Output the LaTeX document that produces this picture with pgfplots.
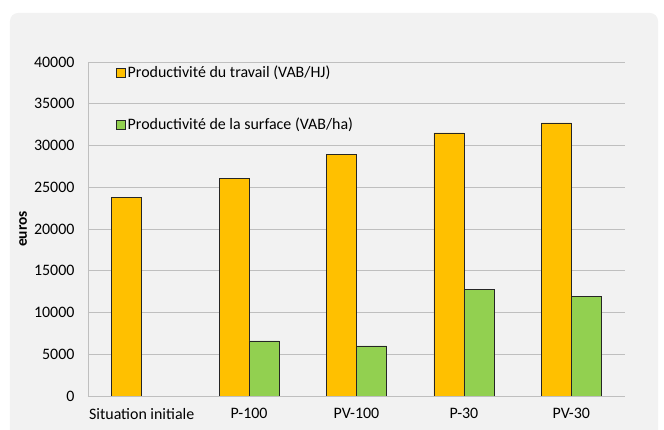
\documentclass[border=0pt]{standalone}
\usepackage{pgfplots}
\pgfplotsset{compat=1.18}
\usepackage{fontspec}
\setmainfont{Carlito}
\definecolor{orangebar}{HTML}{FFC000}
\definecolor{greenbar}{HTML}{92D050}
\definecolor{panel}{HTML}{F2F2F2}
\definecolor{gridc}{HTML}{BFBFBF}
\begin{document}
\begin{tikzpicture}
\path[use as bounding box] (-88bp,-34bp) rectangle (576bp,396bp);
\fill[panel, rounded corners=8bp] (-78bp,-60bp) rectangle (570bp,383bp);
\begin{axis}[
  at={(0,0)}, anchor=south west,
  scale only axis, width=537bp, height=334bp,
  ymin=0, ymax=40000, ytick={0,5000,...,40000},
  scaled y ticks=false,
  xmin=-0.5, xmax=4.5, xtick={0,1,2,3,4},
  xticklabels={Situation initiale,P-100,PV-100,P-30,PV-30},
  ymajorgrids, grid style={gridc, line width=0.9bp},
  axis x line*=bottom, axis y line*=left,
  axis line style={-, gridc, line width=0.9bp},
  major tick length=0pt,
  ybar, bar width=30bp,
  /pgf/number format/assume math mode=true,
  /pgf/number format/1000 sep={},
  tick label style={font=\fontsize{16}{19}\selectfont},
  yticklabel style={xshift=-10bp},
  xticklabel style={yshift=-9bp},
  ylabel={\textbf{euros}},
  ylabel style={at={(axis description cs:-0.121,0.5)}, anchor=center, font=\fontsize{15.5}{18}\selectfont},
  legend style={at={(axis description cs:0.052,0.994)}, anchor=north west, draw=none, fill=none,
    font=\fontsize{16}{19}\selectfont, row sep=35bp, inner sep=0pt},
  legend cell align=left,
]
\addplot[fill=orangebar, draw=black!85, line width=0.6bp, bar shift=-15bp,
  legend image code/.code={\draw[fill=orangebar, draw=black!85, line width=0.6bp] (0bp,-4.5bp) rectangle (9bp,4.5bp);}]
  coordinates {(0,23800) (1,26100) (2,28900) (3,31500) (4,32700)};
\addlegendentry{Productivité du travail (VAB/HJ)}
\addplot[fill=greenbar, draw=black!85, line width=0.6bp, bar shift=15bp,
  legend image code/.code={\draw[fill=greenbar, draw=black!85, line width=0.6bp] (0bp,-4.5bp) rectangle (9bp,4.5bp);}]
  coordinates {(1,6600) (2,6000) (3,12800) (4,11900)};
\addlegendentry{Productivité de la surface (VAB/ha)}
\end{axis}
\end{tikzpicture}
\end{document}
